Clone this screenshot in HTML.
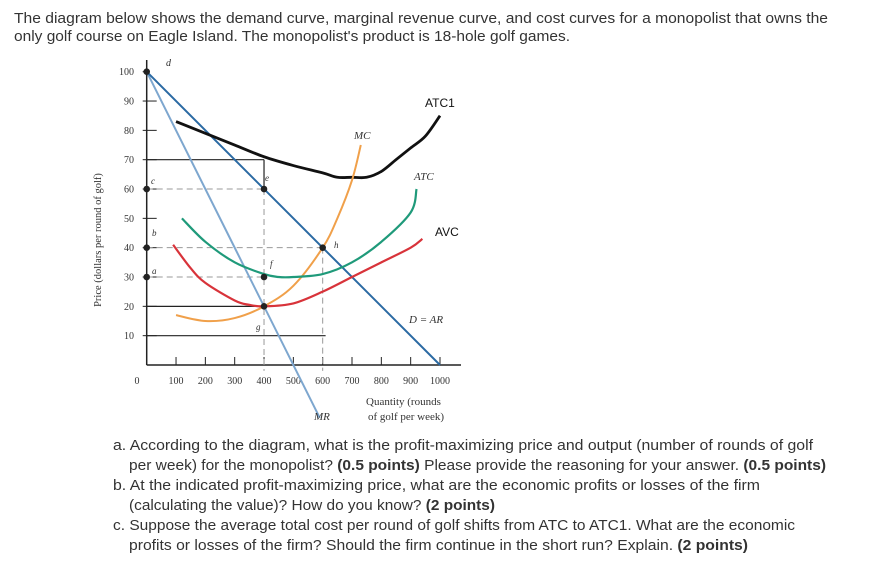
<!DOCTYPE html>
<html><head><meta charset="utf-8"><style>
body{margin:0;background:#fff;width:886px;height:562px;overflow:hidden}
svg{display:block}
.t{font-family:"Liberation Sans",sans-serif;font-size:15px;fill:#333}
.s{font-family:"Liberation Serif",serif;fill:#333}
</style></head><body>
<svg id="c" width="886" height="562">
<text class="t" x="14" y="23" textLength="814" lengthAdjust="spacingAndGlyphs">The diagram below shows the demand curve, marginal revenue curve, and cost curves for a monopolist that owns the</text>
<text class="t" x="14" y="41" textLength="556" lengthAdjust="spacingAndGlyphs">only golf course on Eagle Island. The monopolist's product is 18-hole golf games.</text>
<g id="chart"></g>
<text class="t" x="113" y="450" textLength="700" lengthAdjust="spacingAndGlyphs">a. According to the diagram, what is the profit-maximizing price and output (number of rounds of golf</text>
<text class="t" x="129" y="470" textLength="697" lengthAdjust="spacingAndGlyphs">per week) for the monopolist? <tspan font-weight="bold">(0.5 points)</tspan> Please provide the reasoning for your answer. <tspan font-weight="bold">(0.5 points)</tspan></text>
<text class="t" x="113" y="490" textLength="647" lengthAdjust="spacingAndGlyphs">b. At the indicated profit-maximizing price, what are the economic profits or losses of the firm</text>
<text class="t" x="129" y="510" textLength="366" lengthAdjust="spacingAndGlyphs">(calculating the value)? How do you know? <tspan font-weight="bold">(2 points)</tspan></text>
<text class="t" x="113" y="530" textLength="682" lengthAdjust="spacingAndGlyphs">c. Suppose the average total cost per round of golf shifts from ATC to ATC1. What are the economic</text>
<text class="t" x="129" y="550" textLength="619" lengthAdjust="spacingAndGlyphs">profits or losses of the firm? Should the firm continue in the short run? Explain. <tspan font-weight="bold">(2 points)</tspan></text>
</svg>
<script>
const xTicks=[100,200,300,400,500,600,700,800,900,1000];
const yTicks=[10,20,30,40,50,60,70,80,90,100];
const demandQ=[0,1000], demandP=[100,0];
const mrQ=[0,590], mrP=[100,-18];
const atc1Q=[100,200,300,400,500,600,650,700,750,800,850,900,950,1000];
const atc1P=[83,79,75,71,68,65.5,64,64,64,66,70,74,78,85];
const mcQ=[100,200,300,400,500,600,650,700,730];
const mcP=[17,15,16,20,27,40,50,63,75];
const atcQ=[120,200,300,400,450,500,600,700,800,900,920];
const atcP=[50,42,35,31,30,30,31,35,42,52,60];
const avcQ=[90,150,200,300,350,400,500,600,700,800,900,940];
const avcP=[41,33,28,22,20.5,20,21,25,30,35,40,43];
const dotQ=[0,0,0,0,400,400,400,600];
const dotP=[100,60,40,30,60,30,20,40];
const NS='http://www.w3.org/2000/svg';
const X=q=>146.7+q*0.2933, Y=p=>365-p*2.933;
const g=document.getElementById('chart');
function el(t,a,txt){const e=document.createElementNS(NS,t);for(const k in a)e.setAttribute(k,a[k]);if(txt!==undefined)e.textContent=txt;g.appendChild(e);return e;}
function line(x1,y1,x2,y2,st,w,d){return el('line',{x1,y1,x2,y2,stroke:st,'stroke-width':w||1,'stroke-dasharray':d||'none'});}
function curve(qs,ps,col,w,name){
  const pts=qs.map((q,i)=>[X(q),Y(ps[i])]);
  let d='M'+pts[0][0]+','+pts[0][1];
  for(let i=0;i<pts.length-1;i++){const p0=pts[i-1]||pts[i],p1=pts[i],p2=pts[i+1],p3=pts[i+2]||p2;
    d+=` C${p1[0]+(p2[0]-p0[0])/6},${p1[1]+(p2[1]-p0[1])/6} ${p2[0]-(p3[0]-p1[0])/6},${p2[1]-(p3[1]-p1[1])/6} ${p2[0]},${p2[1]}`;}
  const e=el('path',{d,fill:'none',stroke:col,'stroke-width':w});
  
  
}
// axes
let a=line(X(0),60,X(0),365,'#222',1.5);


a=line(X(0),365,461,365,'#222',1.5);


xTicks.forEach(q=>{line(X(q),365,X(q),357,'#222',1);
  const t=el('text',{x:X(q),y:384,'text-anchor':'middle',class:'s','font-size':10},q);
  
  });
let z=el('text',{x:137,y:384,'text-anchor':'middle',class:'s','font-size':10},'0');


yTicks.forEach(p=>{line(X(0)-4,Y(p),X(0)+(p<100?10:0),Y(p),'#222',1);
  const t=el('text',{x:134,y:Y(p)+3.5,'text-anchor':'end',class:'s','font-size':10},p);
  
  });
// guide lines
line(X(0),Y(70),X(400),Y(70),'#222',1.2);line(X(400),Y(70),X(400),Y(60),'#222',1.2);
line(X(0),Y(20),X(400),Y(20),'#222',1.2);line(X(0),Y(10),X(610),Y(10),'#222',1.2);
line(X(0),Y(60),X(400),Y(60),'#999',1,'6,4');line(X(0),Y(40),X(600),Y(40),'#999',1,'6,4');
line(X(0),Y(30),X(400),Y(30),'#999',1,'6,4');line(X(400),Y(60),X(400),Y(-2),'#999',1,'6,4');
line(X(600),Y(40),X(600),Y(-2),'#999',1,'6,4');
// curves
curve(mrQ,mrP,'#7ea7cf',2,'mr-line');
curve(demandQ,demandP,'#2b6aa3',2,'demand-line');
curve(atc1Q,atc1P,'#111',2.8,'atc1-curve');
curve(mcQ,mcP,'#f0a04a',2,'mc-curve');
curve(atcQ,atcP,'#1f9a7a',2.2,'atc-curve');
curve(avcQ,avcP,'#d8333a',2.2,'avc-curve');
dotQ.forEach((q,i)=>{const c=el('circle',{cx:X(q),cy:Y(dotP[i]),r:3.3,fill:'#222'});
  
  });
// labels
const labs=[['d',166,66,10,1],['c',151,184,9,1],['b',152,236,9,1],['a',152,274,9,1],['e',265,181,9,1],['f',270,267,9,1],['g',256,330,9,1],['h',334,248,9,1],
['MC',354,139,11,1],['ATC',414,180,11,1],['D = AR',409,323,11,1],['MR',314,420,11,1]];
labs.forEach(l=>{const t=el('text',{x:l[1],y:l[2],class:'s','font-size':l[3],'font-style':'italic'},l[0]);
  
  });
[['ATC1',425,107],['AVC',435,236]].forEach(l=>{const t=el('text',{x:l[1],y:l[2],'font-family':'Liberation Sans,sans-serif','font-size':12,fill:'#111'},l[0]);
  
  });
let q1=el('text',{x:366,y:405,class:'s','font-size':11},'Quantity (rounds');


let q2=el('text',{x:368,y:420,class:'s','font-size':11},'of golf per week)');


let yt=el('text',{x:0,y:0,class:'s','font-size':10.5,'text-anchor':'middle',transform:'translate(101,240) rotate(-90)'},'Price (dollars per round of golf)');


</script>
</body></html>
